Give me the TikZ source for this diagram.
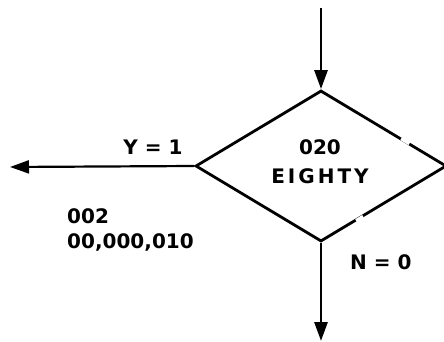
\documentclass[tikz,border=0pt]{standalone}
\usepackage{fontspec}
\setmainfont{DejaVu Sans}
\usetikzlibrary{shapes.geometric,arrows.meta,calc}
\tikzset{
  flow/.style={line width=2.8pt},
  tip/.style={-{Triangle[length=19pt,width=13pt]}},
  lbl/.style={font=\fontsize{20}{25}\bfseries\selectfont, inner sep=0pt},
  gap/.style={draw=white, line width=5pt},
}
\begin{document}
\begin{tikzpicture}[x=1pt,y=-1pt]
  \useasboundingbox (0,0) rectangle (444,342);
  % decision box
  \node[draw, flow, diamond, minimum width=251pt, minimum height=151pt, inner sep=0pt] (d) at (321,166) {};
  % worn spots in the right-hand edges
  \path[gap] ($(d.north)!0.635!(d.east)$) -- ($(d.north)!0.70!(d.east)$);
  \path[gap] ($(d.east)!0.665!(d.south)$) -- ($(d.east)!0.72!(d.south)$);
  \node[lbl, align=center, font=\fontsize{20}{29}\bfseries\selectfont] (dt) at (320,161.5)
    {020\\{\addfontfeatures{LetterSpace=15}EIGHTY}};
  % connectors
  \coordinate (in) at (321,8);
  \coordinate (yes) at (10,167);
  \coordinate (no) at (321,341);
  \draw[flow, tip] (in) -- (d.north);
  \draw[line width=2.2pt, tip] (d.west) -- (yes);
  \draw[flow, tip] (d.south) -- (no);
  % branch labels
  \node[lbl] (ylab) at (153,147) {Y = 1};
  \node[lbl, anchor=west] (nlab) at (350,262.5) {N = 0};
  \node[lbl, anchor=west, align=left] (addr) at (67,230) {002\\00,000,010};
\end{tikzpicture}
\end{document}
